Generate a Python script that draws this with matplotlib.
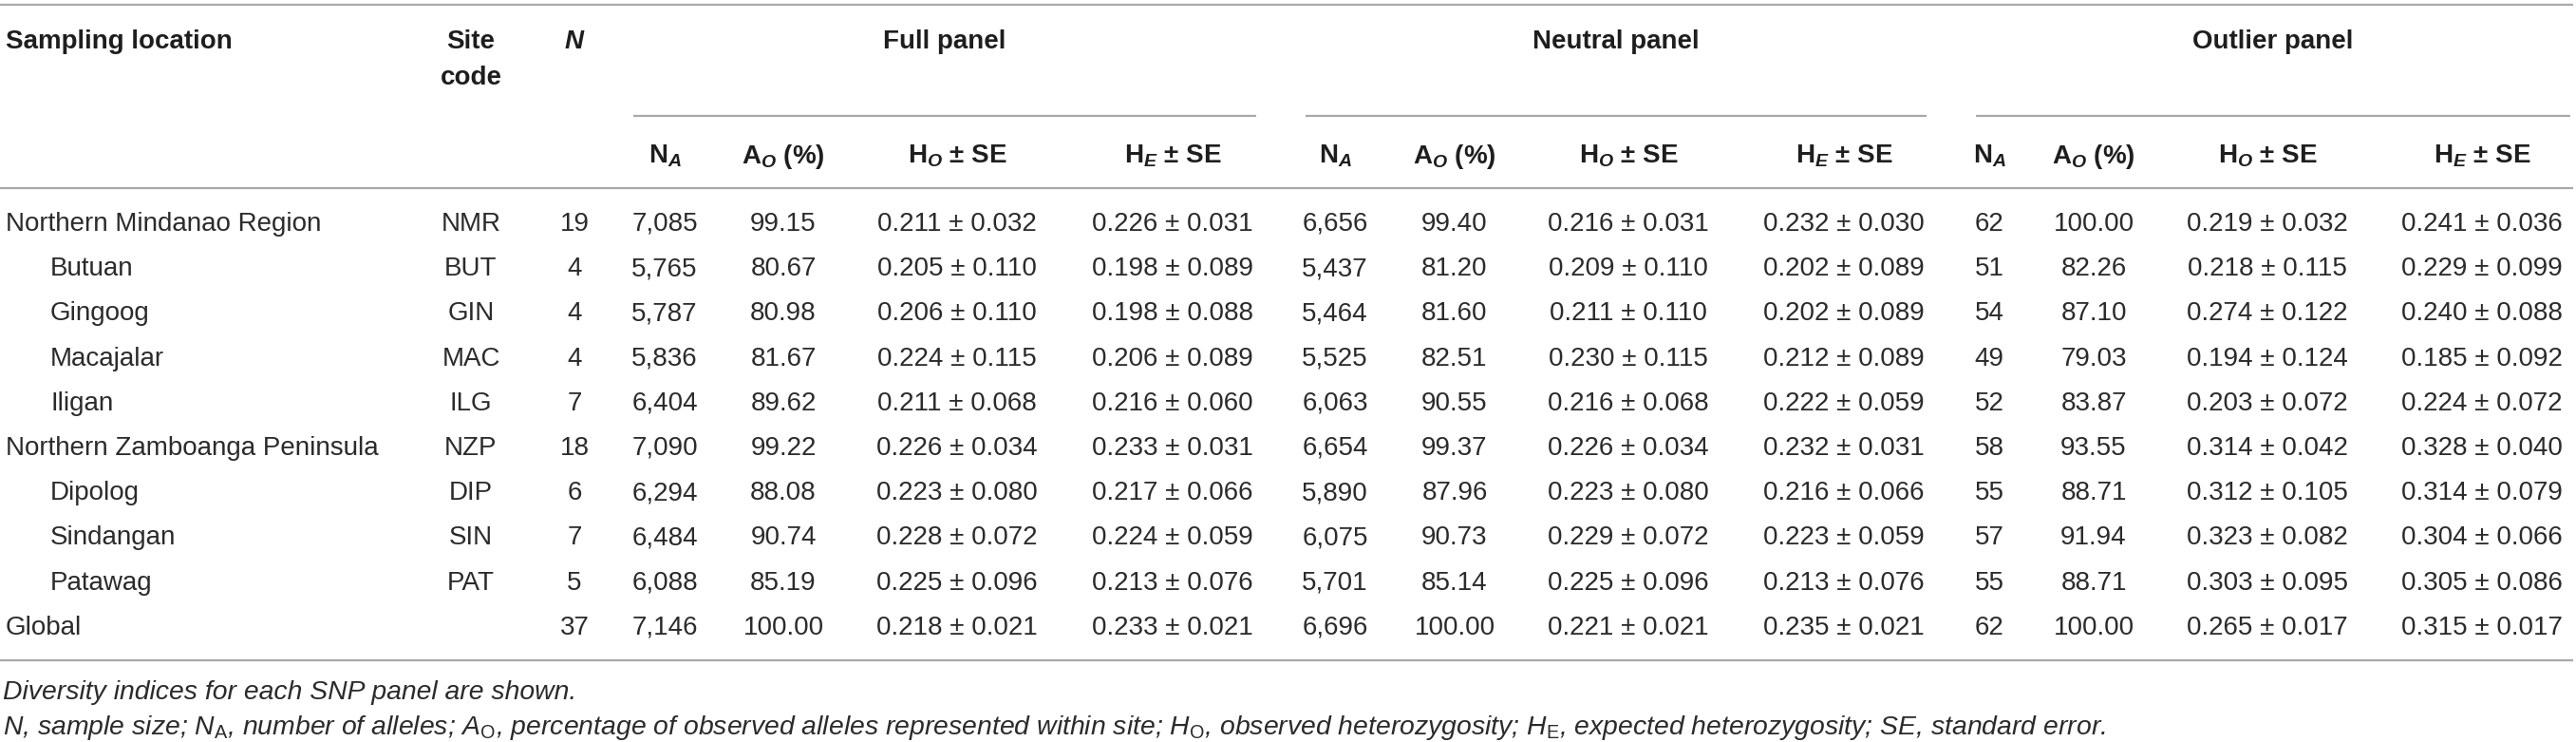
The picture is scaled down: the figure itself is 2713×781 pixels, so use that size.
import matplotlib

matplotlib.use("Agg")
import matplotlib.pyplot as plt

plt.rcParams["font.family"] = ["Liberation Sans", "DejaVu Sans"]
plt.rcParams["mathtext.fontset"] = "custom"
plt.rcParams["mathtext.rm"] = "Liberation Sans"
plt.rcParams["mathtext.it"] = "Liberation Sans:italic"
plt.rcParams["mathtext.bf"] = "Liberation Sans:bold"
plt.rcParams["mathtext.bfit"] = "Liberation Sans:italic:bold"

# table data
locations = ["Northern Mindanao Region", "Butuan", "Gingoog", "Macajalar", "Iligan",
             "Northern Zamboanga Peninsula", "Dipolog", "Sindangan", "Patawag", "Global"]
is_site = [False, True, True, True, True, False, True, True, True, False]
codes = ["NMR", "BUT", "GIN", "MAC", "ILG", "NZP", "DIP", "SIN", "PAT", ""]
n_samples = [19, 4, 4, 4, 7, 18, 6, 7, 5, 37]

full_na = [7085, 5765, 5787, 5836, 6404, 7090, 6294, 6484, 6088, 7146]
full_ao = [99.15, 80.67, 80.98, 81.67, 89.62, 99.22, 88.08, 90.74, 85.19, 100.00]
full_ho = [0.211, 0.205, 0.206, 0.224, 0.211, 0.226, 0.223, 0.228, 0.225, 0.218]
full_ho_se = [0.032, 0.110, 0.110, 0.115, 0.068, 0.034, 0.080, 0.072, 0.096, 0.021]
full_he = [0.226, 0.198, 0.198, 0.206, 0.216, 0.233, 0.217, 0.224, 0.213, 0.233]
full_he_se = [0.031, 0.089, 0.088, 0.089, 0.060, 0.031, 0.066, 0.059, 0.076, 0.021]

neutral_na = [6656, 5437, 5464, 5525, 6063, 6654, 5890, 6075, 5701, 6696]
neutral_ao = [99.40, 81.20, 81.60, 82.51, 90.55, 99.37, 87.96, 90.73, 85.14, 100.00]
neutral_ho = [0.216, 0.209, 0.211, 0.230, 0.216, 0.226, 0.223, 0.229, 0.225, 0.221]
neutral_ho_se = [0.031, 0.110, 0.110, 0.115, 0.068, 0.034, 0.080, 0.072, 0.096, 0.021]
neutral_he = [0.232, 0.202, 0.202, 0.212, 0.222, 0.232, 0.216, 0.223, 0.213, 0.235]
neutral_he_se = [0.030, 0.089, 0.089, 0.089, 0.059, 0.031, 0.066, 0.059, 0.076, 0.021]

outlier_na = [62, 51, 54, 49, 52, 58, 55, 57, 55, 62]
outlier_ao = [100.00, 82.26, 87.10, 79.03, 83.87, 93.55, 88.71, 91.94, 88.71, 100.00]
outlier_ho = [0.219, 0.218, 0.274, 0.194, 0.203, 0.314, 0.312, 0.323, 0.303, 0.265]
outlier_ho_se = [0.032, 0.115, 0.122, 0.124, 0.072, 0.042, 0.105, 0.082, 0.095, 0.017]
outlier_he = [0.241, 0.229, 0.240, 0.185, 0.224, 0.328, 0.314, 0.304, 0.305, 0.315]
outlier_he_se = [0.036, 0.099, 0.088, 0.092, 0.072, 0.040, 0.079, 0.066, 0.086, 0.017]

panel_titles = ["Full panel", "Neutral panel", "Outlier panel"]
sub_headers = [r"$\mathbf{N}_{\mathbfit{A}}$", r"$\mathbf{A}_{\mathbfit{O}}$ (%)",
               r"$\mathbf{H}_{\mathbfit{O}}$ ± SE", r"$\mathbf{H}_{\mathbfit{E}}$ ± SE"]
note_1 = "Diversity indices for each SNP panel are shown."
note_2 = (r"$\mathit{N}$, sample size; $\mathit{N}_{\mathrm{A}}$, number of alleles; "
          r"$\mathit{A}_{\mathrm{O}}$, percentage of observed alleles represented within site; "
          r"$\mathit{H}_{\mathrm{O}}$, observed heterozygosity; "
          r"$\mathit{H}_{\mathrm{E}}$, expected heterozygosity; SE, standard error.")

# layout (pixel coordinates)
W, H = 2713, 781
TEXT = "#2b2b2b"
RULE = "#a7a9ac"
FS = 20
x_loc, x_indent, x_code, x_n = 6, 53, 496, 605
panel_x = [[700, 825, 1008, 1235], [1406, 1532, 1715, 1942], [2095, 2205, 2388, 2614]]
panel_span = [(667, 1323), (1375, 2029), (2081, 2707)]
row_y0, row_step = 243, 47.2

fig = plt.figure(figsize=(W / 100, H / 100), dpi=100)
ax = fig.add_axes([0, 0, 1, 1])
ax.set_xlim(0, W)
ax.set_ylim(H, 0)
ax.axis("off")

# rules
for y in [5, 198, 695]:
    ax.plot([0, 2710], [y, y], color=RULE, lw=1.6, solid_capstyle="butt")
for x0, x1 in panel_span:
    ax.plot([x0, x1], [122, 122], color=RULE, lw=1.6, solid_capstyle="butt")

# header
hdr = dict(fontsize=FS, color="#1e1e1e", fontweight="bold", va="baseline")
ax.text(x_loc, 51, "Sampling location", ha="left", **hdr)
ax.text(x_code, 51, "Site", ha="center", **hdr)
ax.text(x_code, 89, "code", ha="center", **hdr)
ax.text(x_n, 51, "N", ha="center", style="italic", **hdr)
for title, (x0, x1), xs in zip(panel_titles, panel_span, panel_x):
    ax.text((x0 + x1) / 2, 51, title, ha="center", **hdr)
    for x, label in zip(xs, sub_headers):
        ax.text(x, 172, label, ha="center", **hdr)

# body
body = dict(fontsize=FS, color=TEXT, va="baseline")
panels = [
    (full_na, full_ao, full_ho, full_ho_se, full_he, full_he_se),
    (neutral_na, neutral_ao, neutral_ho, neutral_ho_se, neutral_he, neutral_he_se),
    (outlier_na, outlier_ao, outlier_ho, outlier_ho_se, outlier_he, outlier_he_se),
]
for i, loc in enumerate(locations):
    y = row_y0 + i * row_step
    ax.text(x_indent if is_site[i] else x_loc, y, loc, ha="left", **body)
    ax.text(x_code, y, codes[i], ha="center", **body)
    ax.text(x_n, y, str(n_samples[i]), ha="center", **body)
    for (na, ao, ho, ho_se, he, he_se), xs in zip(panels, panel_x):
        cells = [f"{na[i]:,}", f"{ao[i]:.2f}",
                 f"{ho[i]:.3f} ± {ho_se[i]:.3f}", f"{he[i]:.3f} ± {he_se[i]:.3f}"]
        for x, s in zip(xs, cells):
            ax.text(x, y, s, ha="center", **body)

# footnotes
note = dict(fontsize=20.4, color=TEXT, va="baseline", style="italic")
ax.text(x_loc - 3, 736, note_1, ha="left", **note)
ax.text(x_loc - 3, 773, note_2, ha="left", **note)

fig.savefig("out.png", dpi=100)
